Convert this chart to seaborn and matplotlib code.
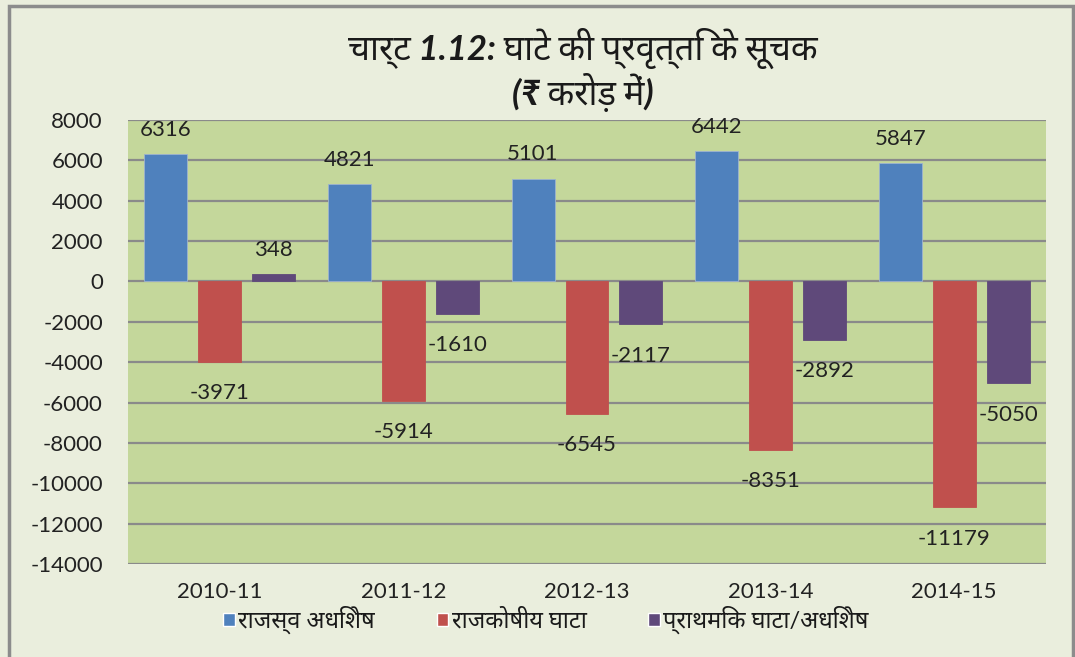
import matplotlib
matplotlib.use("Agg")
import matplotlib.pyplot as plt
import seaborn as sns
import pandas as pd
from matplotlib.patches import Rectangle

years = ["2010-11", "2011-12", "2012-13", "2013-14", "2014-15"]
series_names = ["राजस्व अधिशेष", "राजकोषीय घाटा", "प्राथमिक घाटा/अधिशेष"]
revenue_surplus = [6316, 4821, 5101, 6442, 5847]
fiscal_deficit = [-3971, -5914, -6545, -8351, -11179]
primary_deficit = [348, -1610, -2117, -2892, -5050]
colors = ["#4F81BD", "#C0504D", "#5F497A"]
title_line1 = "चार्ट 1.12: घाटे की प्रवृत्ति के सूचक"
title_line2 = "(₹ करोड़ में)"

sns.set_style("white")
plt.rcParams["font.family"] = ["Lato", "Noto Sans Devanagari", "Lohit Devanagari",
                               "FreeSans", "Noto Sans", "DejaVu Sans"]
plt.rcParams["axes.unicode_minus"] = False

df = pd.DataFrame({
    "year": years * 3,
    "value": revenue_surplus + fiscal_deficit + primary_deficit,
    "series": [s for s in series_names for _ in years],
})

fig = plt.figure(figsize=(10.75, 6.57), dpi=100, facecolor="#EAEEDD")
fig.patches.append(Rectangle((9 / 1075, -0.02), (1073 - 9) / 1075, 1.02 - 6 / 657,
                             transform=fig.transFigure, fill=False,
                             edgecolor="#8C8C8C", linewidth=2.5))
ax = fig.add_axes([128 / 1075, 1 - 564 / 657, (1046 - 128) / 1075, (564 - 120) / 657])
ax.set_facecolor("#C4D79B")

sns.barplot(data=df, x="year", y="value", hue="series", palette=colors,
            width=0.882, errorbar=None, ax=ax, saturation=1)

# narrower bars with gaps between series
bw = 0.234
for cont in ax.containers:
    for bar in cont:
        c = bar.get_x() + bar.get_width() / 2
        bar.set_width(bw)
        bar.set_x(c - bw / 2)
        bar.set_edgecolor("#9DB3D0" if bar.get_facecolor()[2] > 0.6 else bar.get_facecolor())
        bar.set_linewidth(0.6)

for cont, vals in zip(ax.containers, [revenue_surplus, fiscal_deficit, primary_deficit]):
    for bar, v in zip(cont, vals):
        x = bar.get_x() + bar.get_width() / 2
        off = 13 if v >= 0 else -27
        ax.annotate(f"{v}", (x, v), xytext=(0, off), textcoords="offset points",
                    ha="center", va="baseline", fontsize=16, color="#222222")

ax.set_ylim(-14000, 8000)
ax.set_yticks(range(-14000, 8001, 2000))
ax.set_xlim(-0.5, 4.5)
ax.yaxis.grid(True, color="#8A8A8A", linewidth=1.6)
ax.set_axisbelow(True)
for sp in ax.spines.values():
    sp.set_visible(False)
ax.tick_params(axis="both", length=0, labelsize=16, colors="#222222")
ax.tick_params(axis="y", pad=18)
ax.tick_params(axis="x", pad=13)
ax.set_xlabel("")
ax.set_ylabel("")

handles, labels = ax.get_legend_handles_labels()
ax.legend(handles, labels, loc="center", bbox_to_anchor=(546 / 1075, 1 - 620 / 657),
          bbox_transform=fig.transFigure, ncol=3, frameon=False, fontsize=17,
          handlelength=0.5, handleheight=0.5, handletextpad=0.15, columnspacing=2.6,
          labelcolor="#1A1A1A")

fig.text(583 / 1075, 1 - 48 / 657, title_line1, ha="center", va="center",
         fontsize=25, fontstyle="italic", fontweight="bold", color="#1A1A1A")
fig.text(583 / 1075, 1 - 92 / 657, title_line2, ha="center", va="center",
         fontsize=25, fontstyle="italic", fontweight="bold", color="#1A1A1A")

fig.savefig("out.png", dpi=100, facecolor=fig.get_facecolor())
